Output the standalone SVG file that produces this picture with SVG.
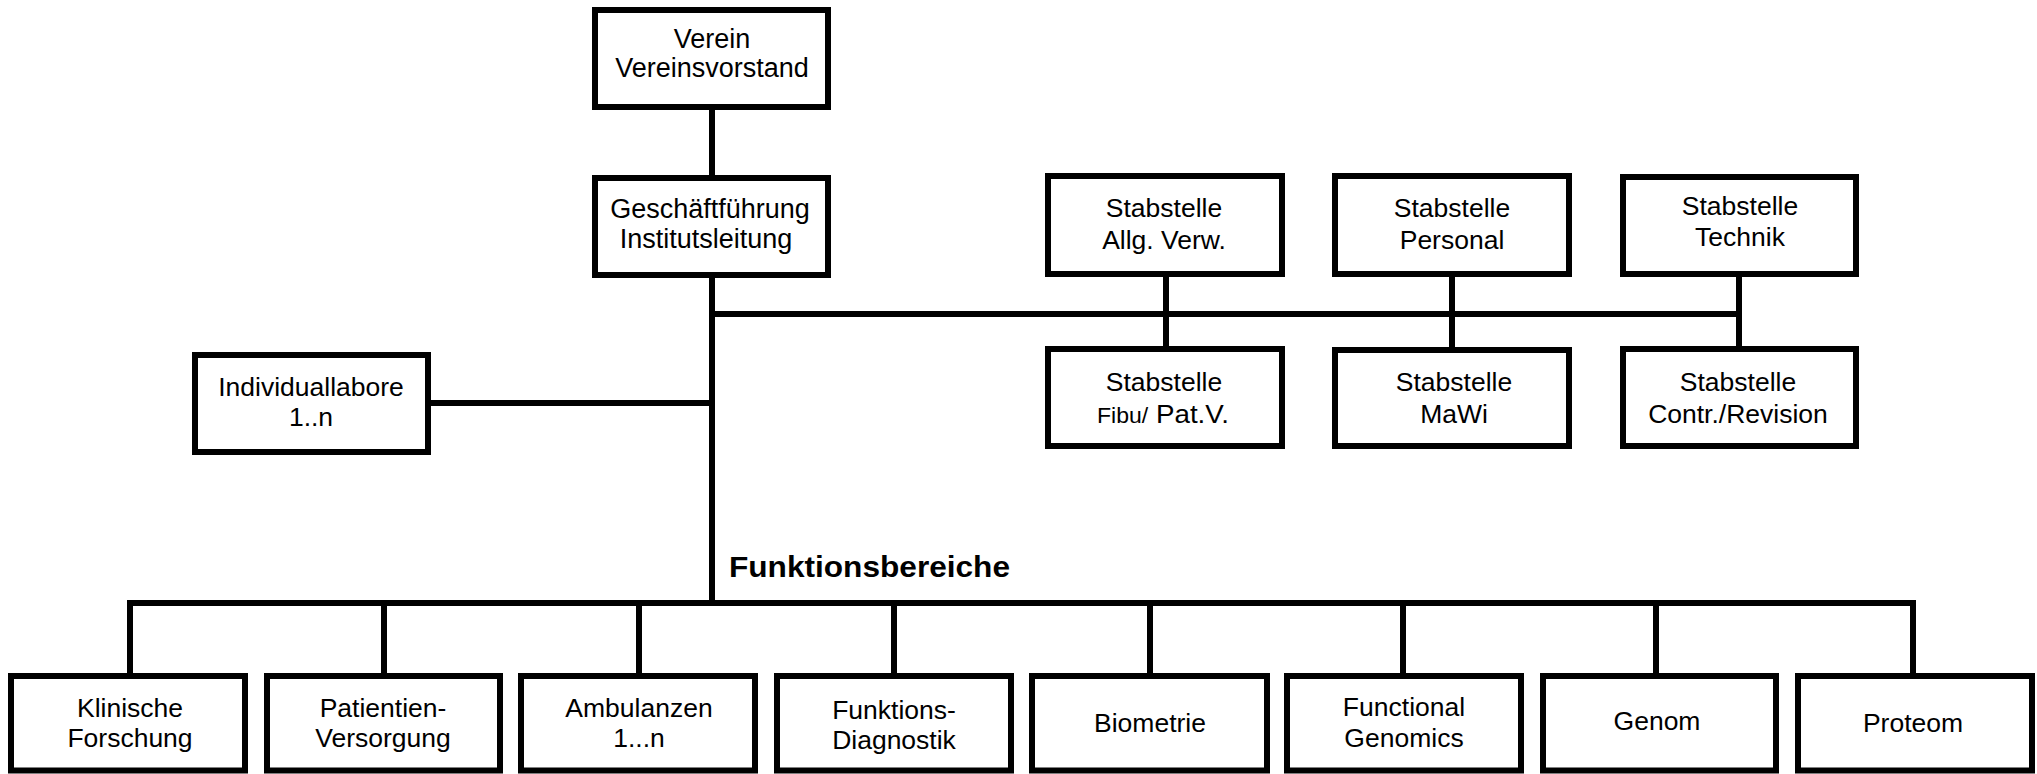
<svg xmlns="http://www.w3.org/2000/svg" width="2037" height="774" viewBox="0 0 2037 774">
<style>
.box{fill:#fff;stroke:#000;stroke-width:6}
.ln{fill:none;stroke:#000;stroke-width:6;stroke-linejoin:miter;stroke-linecap:butt}
text{font-family:"Liberation Sans",Arial,sans-serif;font-size:26.5px;fill:#000;text-anchor:middle}
.big{font-size:27px}
.hd{font-weight:bold;font-size:29px;text-anchor:start}
</style>
<rect width="2037" height="774" fill="#fff"/>
<g id="connectors">
<path class="ln" d="M712,110 V175"/>
<path class="ln" d="M712,278 V603"/>
<path class="ln" d="M712,314 H1739"/>
<path class="ln" d="M1166,277 V346"/>
<path class="ln" d="M1452,277 V347"/>
<path class="ln" d="M1739,277 V346"/>
<path class="ln" d="M431,403 H712"/>
<path class="ln" d="M130,673 V603 H1913 V673"/>
<path class="ln" d="M384,603 V673"/>
<path class="ln" d="M639,603 V673"/>
<path class="ln" d="M894,603 V673"/>
<path class="ln" d="M1150,603 V673"/>
<path class="ln" d="M1403,603 V673"/>
<path class="ln" d="M1656,603 V673"/>
</g>
<g id="verein"><rect class="box" x="595" y="10" width="233" height="97"/><text class="big" x="712" y="48">Verein</text><text class="big" x="712" y="77">Vereinsvorstand</text></g>
<g id="geschaeftsfuehrung"><rect class="box" x="595" y="178" width="233" height="97"/><text class="big" x="710" y="218">Geschäftführung</text><text class="big" x="706" y="248">Institutsleitung</text></g>
<g id="stab-allg"><rect class="box" x="1048" y="176" width="234" height="98"/><text x="1164" y="217">Stabstelle</text><text x="1164" y="249">Allg. Verw.</text></g>
<g id="stab-personal"><rect class="box" x="1335" y="176" width="234" height="98"/><text x="1452" y="217">Stabstelle</text><text x="1452" y="249">Personal</text></g>
<g id="stab-technik"><rect class="box" x="1623" y="177" width="233" height="97"/><text x="1740" y="215">Stabstelle</text><text x="1740" y="246">Technik</text></g>
<g id="stab-fibu"><rect class="box" x="1048" y="349" width="234" height="97"/><text x="1164" y="391">Stabstelle</text><text x="1163" y="423" textLength="132" lengthAdjust="spacingAndGlyphs"><tspan font-size="22">Fibu/</tspan> Pat.V.</text></g>
<g id="stab-mawi"><rect class="box" x="1335" y="350" width="234" height="96"/><text x="1454" y="391">Stabstelle</text><text x="1454" y="423">MaWi</text></g>
<g id="stab-contr"><rect class="box" x="1623" y="349" width="233" height="97"/><text x="1738" y="391">Stabstelle</text><text x="1738" y="423">Contr./Revision</text></g>
<g id="individuallabore"><rect class="box" x="195" y="355" width="233" height="97"/><text x="311" y="396">Individuallabore</text><text x="311" y="426">1..n</text></g>
<g id="funktionsbereiche-label"><text class="hd" x="729" y="577" textLength="281" lengthAdjust="spacingAndGlyphs">Funktionsbereiche</text></g>
<g id="klinische-forschung"><rect class="box" x="11" y="676" width="234" height="94.5"/><text x="130" y="717">Klinische</text><text x="130" y="747">Forschung</text></g>
<g id="patientien-versorgung"><rect class="box" x="267" y="676" width="233" height="94.5"/><text x="383" y="717">Patientien-</text><text x="383" y="747">Versorgung</text></g>
<g id="ambulanzen"><rect class="box" x="521" y="676" width="234" height="94.5"/><text x="639" y="717">Ambulanzen</text><text x="639" y="747">1...n</text></g>
<g id="funktions-diagnostik"><rect class="box" x="777" y="676" width="234" height="94.5"/><text x="894" y="719">Funktions-</text><text x="894" y="749">Diagnostik</text></g>
<g id="biometrie"><rect class="box" x="1032" y="676" width="235" height="94.5"/><text x="1150" y="732">Biometrie</text></g>
<g id="functional-genomics"><rect class="box" x="1287" y="676" width="234" height="94.5"/><text x="1404" y="716">Functional</text><text x="1404" y="747">Genomics</text></g>
<g id="genom"><rect class="box" x="1543" y="676" width="233" height="94.5"/><text x="1657" y="730">Genom</text></g>
<g id="proteom"><rect class="box" x="1798" y="676" width="234" height="94.5"/><text x="1913" y="732">Proteom</text></g>
</svg>
